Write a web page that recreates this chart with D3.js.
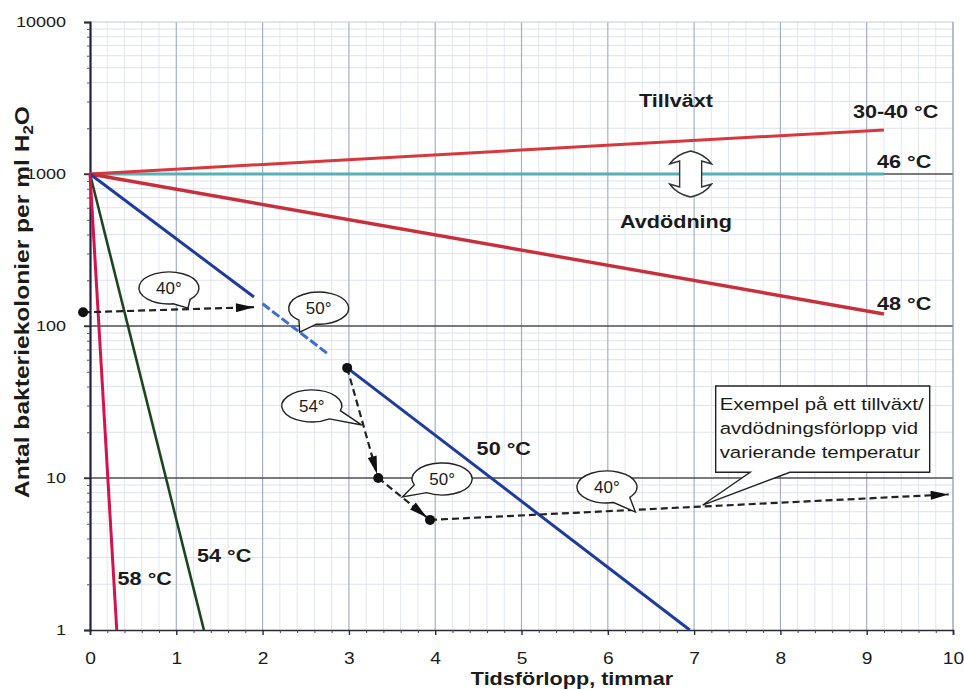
<!DOCTYPE html>
<html lang="sv">
<head>
<meta charset="utf-8">
<title>Tillväxt och avdödning av bakterier</title>
<style>
  body { margin: 0; background: #fff; }
  svg { display: block; }
  text { font-family: "Liberation Sans", Arial, sans-serif; fill: #1b1b1b; }
</style>
</head>
<body>
<script src="https://d3js.org/d3.v7.min.js"></script>
<script>
// size and plot box
var w = 964, h = 690;
var plotL = 90, plotR = 953, plotT = 22, plotB = 630;

// tick values
var xTicks = [0, 1, 2, 3, 4, 5, 6, 7, 8, 9, 10];
var yTicks = [1, 10, 100, 1000, 10000];

// curves [hours, colonies per ml]
var c30_40 = [[0, 1000], [9.2, 1950]];
var c46 = [[0, 1000], [9.2, 1000]];
var c48 = [[0, 1000], [9.2, 120]];
var c50a = [[0, 1000], [1.9, 155]];
var c50aDash = [[2.0, 140], [2.75, 66]];
var c50b = [[2.98, 53], [6.95, 1]];
var c54 = [[0, 1000], [1.32, 1]];
var c58 = [[0, 1000], [0.31, 1]];

// example with varying temperature
var stepPoints = [[-0.08, 123], [2.98, 53], [3.34, 10], [3.94, 5.3]];
var stepArrows = [
  [[-0.08, 123], [1.9, 133]],
  [[2.98, 53], [3.34, 10]],
  [[3.34, 10], [3.94, 5.3]],
  [[3.94, 5.3], [9.95, 7.8]]
];

var curveLabels = ["30-40 °C", "46 °C", "48 °C", "50 °C", "54 °C", "58 °C"];
var bubbleTexts = ["40°", "50°", "54°", "50°", "40°"];
var boxLines = ["Exempel på ett tillväxt/", "avdödningsförlopp vid", "varierande temperatur"];

var svg = d3.select("body").append("svg").attr("width", w).attr("height", h);

var x = d3.scaleLinear().domain([0, 10]).range([plotL, plotR]);
var y = d3.scaleLog().domain([1, 10000]).range([plotB, plotT]);

// stretched text helper
function label(g, px, py, str, size, weight, anchor) {
  return g.append("text")
    .attr("transform", "translate(" + px + "," + py + ") scale(1.2,1)")
    .attr("text-anchor", anchor || "start")
    .style("font-size", size + "px")
    .style("font-weight", weight || "normal")
    .text(str);
}

//Grid
var grid = svg.append("g");
var minorX = d3.range(1, 50).map(function(i) { return i / 5; }).filter(function(d) { return d % 1 !== 0; });
var minorY = [];
[1, 10, 100, 1000].forEach(function(dec) {
  for (var k = 2; k < 10; k++) minorY.push(dec * k);
});

grid.selectAll(".mx").data(minorX).join("line")
  .attr("x1", function(d) { return x(d); }).attr("x2", function(d) { return x(d); })
  .attr("y1", plotT).attr("y2", plotB)
  .attr("stroke", "#e2e7f1").attr("stroke-width", 1);

grid.selectAll(".my").data(minorY).join("line")
  .attr("x1", plotL).attr("x2", plotR)
  .attr("y1", function(d) { return y(d); }).attr("y2", function(d) { return y(d); })
  .attr("stroke", "#dce2ee").attr("stroke-width", 1);

grid.selectAll(".vx").data(xTicks.slice(1, -1)).join("line")
  .attr("x1", function(d) { return x(d); }).attr("x2", function(d) { return x(d); })
  .attr("y1", plotT).attr("y2", plotB)
  .attr("stroke", "#a4afca").attr("stroke-width", 1.2);

grid.selectAll(".hy").data([10, 100, 1000]).join("line")
  .attr("x1", plotL - 6).attr("x2", plotR)
  .attr("y1", function(d) { return y(d); }).attr("y2", function(d) { return y(d); })
  .attr("stroke", "#4d4d55").attr("stroke-width", 1.4);

grid.append("line").attr("x1", plotL).attr("x2", plotR).attr("y1", y(10000)).attr("y2", y(10000))
  .attr("stroke", "#c2c9d8").attr("stroke-width", 1);
grid.append("line").attr("x1", plotR).attr("x2", plotR).attr("y1", plotT).attr("y2", plotB)
  .attr("stroke", "#8d93a3").attr("stroke-width", 1.2);

//Axes
var xAxis = svg.append("g").attr("transform", "translate(0," + plotB + ")")
  .call(d3.axisBottom(x).tickValues(xTicks).tickSize(5).tickPadding(18).tickFormat(d3.format("d")));
xAxis.select(".domain").attr("stroke", "#2a2a35").attr("stroke-width", 1.6);
xAxis.selectAll(".tick line").attr("stroke", "#2a2a35").attr("stroke-width", 1.4);
xAxis.selectAll(".tick text").attr("transform", "scale(1.2,1)")
  .style("font-size", "16px").style("font-family", "Liberation Sans, Arial, sans-serif").attr("fill", "#333");

svg.append("g").attr("transform", "translate(0," + plotB + ")")
  .call(d3.axisBottom(x).tickValues(minorX).tickSize(3).tickFormat(""))
  .call(function(g) { g.select(".domain").remove(); })
  .selectAll("line").attr("stroke", "#444");

var yAxis = svg.append("g").attr("transform", "translate(" + plotL + ",0)")
  .call(d3.axisLeft(y).tickValues(yTicks).tickSize(6).tickPadding(14).tickFormat(d3.format("d")));
yAxis.select(".domain").attr("stroke", "#1d2240").attr("stroke-width", 2.2);
yAxis.selectAll(".tick line").attr("stroke", "#333").attr("stroke-width", 1.4);
yAxis.selectAll(".tick text").attr("transform", "scale(1.2,1)")
  .style("font-size", "15px").style("font-family", "Liberation Sans, Arial, sans-serif").attr("fill", "#333");

svg.append("g").attr("transform", "translate(" + plotL + ",0)")
  .call(d3.axisLeft(y).tickValues(minorY).tickSize(3).tickFormat(""))
  .call(function(g) { g.select(".domain").remove(); })
  .selectAll("line").attr("stroke", "#555");

//Curves
var line = d3.line().x(function(d) { return x(d[0]); }).y(function(d) { return y(d[1]); });
var curves = [
  { data: c46, color: "#58b0b6", width: 3 },
  { data: c30_40, color: "#d8373c", width: 3 },
  { data: c48, color: "#c92f3b", width: 3.4 },
  { data: c50a, color: "#1f3c9c", width: 3 },
  { data: c50b, color: "#1f3c9c", width: 3 },
  { data: c54, color: "#1d4620", width: 2.6 },
  { data: c58, color: "#d2144e", width: 3 }
];
svg.append("g").selectAll("path").data(curves).join("path")
  .attr("d", function(d) { return line(d.data); })
  .attr("fill", "none")
  .attr("stroke", function(d) { return d.color; })
  .attr("stroke-width", function(d) { return d.width; });

svg.append("path").attr("d", line(c50aDash)).attr("fill", "none")
  .attr("stroke", "#3d6fd2").attr("stroke-width", 3).attr("stroke-dasharray", "9,3");

//Example path with arrows
svg.append("defs").append("marker")
  .attr("id", "ah").attr("viewBox", "0 0 20 10").attr("refX", 20).attr("refY", 5)
  .attr("markerWidth", 20).attr("markerHeight", 9).attr("markerUnits", "userSpaceOnUse")
  .attr("orient", "auto")
  .append("path").attr("d", "M0,0 L20,5 L0,10 Z").attr("fill", "#111");

svg.append("g").selectAll("line").data(stepArrows).join("line")
  .each(function(d, i) {
    var x1 = x(d[0][0]), y1 = y(d[0][1]), x2 = x(d[1][0]), y2 = y(d[1][1]);
    if (i === 1 || i === 2) {
      var len = Math.hypot(x2 - x1, y2 - y1);
      x2 -= (x2 - x1) / len * 4; y2 -= (y2 - y1) / len * 4;
    }
    d3.select(this).attr("x1", x1).attr("y1", y1).attr("x2", x2).attr("y2", y2);
  })
  .attr("stroke", "#222").attr("stroke-width", 2.2).attr("stroke-dasharray", "7,4")
  .attr("marker-end", "url(#ah)");

svg.append("g").selectAll("circle").data(stepPoints).join("circle")
  .attr("cx", function(d) { return x(d[0]); })
  .attr("cy", function(d) { return y(d[1]); })
  .attr("r", 5).attr("fill", "#111");

//Speech bubbles: centre, tail tip (data units)
var bubbles = [
  { c: [0.915, 178], tip: [1.135, 131] },
  { c: [2.65, 131], tip: [2.43, 91] },
  { c: [2.57, 29.8], tip: [3.15, 22.3] },
  { c: [4.08, 9.85], tip: [3.62, 7.5] },
  { c: [5.99, 8.73], tip: [6.32, 5.97] }
];
var bg = svg.append("g");
bubbles.forEach(function(b, i) {
  var cx = x(b.c[0]), cy = y(b.c[1]), tx = x(b.tip[0]), ty = y(b.tip[1]);
  var rx = 30, ry = 16;
  var ang = Math.atan2((ty - cy) / ry, (tx - cx) / rx), dd = 0.32;
  var p1 = [cx + rx * Math.cos(ang + dd), cy + ry * Math.sin(ang + dd)];
  var p2 = [cx + rx * Math.cos(ang - dd), cy + ry * Math.sin(ang - dd)];
  bg.append("path")
    .attr("d", "M" + p1 + " A" + rx + "," + ry + " 0 1 1 " + p2 + " L" + tx + "," + ty + " Z")
    .attr("fill", "#fff").attr("stroke", "#222").attr("stroke-width", 1.4);
  bg.append("text").attr("x", cx).attr("y", cy + 6).attr("text-anchor", "middle")
    .style("font-size", "17px").text(bubbleTexts[i]);
});

//Box callout
var bx0 = x(7.25), bx1 = x(9.73), by0 = y(40.3), by1 = y(10.9);
var btip = [x(7.10), y(6.64)];
svg.append("path")
  .attr("d", "M" + bx0 + "," + by0 + " H" + bx1 + " V" + by1 + " H" + x(8.11) +
    " L" + btip + " L" + x(7.65) + "," + by1 + " H" + bx0 + " Z")
  .attr("fill", "#fff").attr("stroke", "#222").attr("stroke-width", 1.4);
boxLines.forEach(function(s, i) {
  label(svg, bx0 + 4, by0 + 24 + i * 24, s, 17);
});

//Double arrow between Tillväxt and Avdödning
svg.append("path")
  .attr("transform", "translate(" + x(6.96) + "," + y(1000) + ")")
  .attr("d", "M0,-23 Q14,-20 21,-10 L11,-13 L11,13 L21,10 Q14,20 0,23 Q-14,20 -21,10 L-11,13 L-11,-13 L-21,-10 Q-14,-20 0,-23 Z")
  .attr("fill", "#fff").attr("stroke", "#333").attr("stroke-width", 1.4);

//Labels
var tl = svg.append("g");
label(tl, x(6.79), y(2750), "Tillväxt", 18, "bold", "middle");
label(tl, x(6.79), y(441), "Avdödning", 18, "bold", "middle");
var labelAt = [[8.84, 2335], [9.12, 1096], [9.12, 127], [4.48, 14.2], [1.24, 2.8], [0.32, 1.98]];
curveLabels.forEach(function(s, i) {
  label(tl, x(labelAt[i][0]), y(labelAt[i][1]), s, 18, "bold");
});

//Axis titles
label(svg, 572, 685, "Tidsförlopp, timmar", 18, "bold", "middle");
var yt = svg.append("text")
  .attr("transform", "translate(29,302) rotate(-90) scale(1.2,1)")
  .attr("text-anchor", "middle")
  .style("font-size", "20.5px").style("font-weight", "bold");
yt.append("tspan").text("Antal bakteriekolonier per ml H");
yt.append("tspan").attr("dy", 4).style("font-size", "14px").text("2");
yt.append("tspan").attr("dy", -4).text("O");
</script>
</body>
</html>
